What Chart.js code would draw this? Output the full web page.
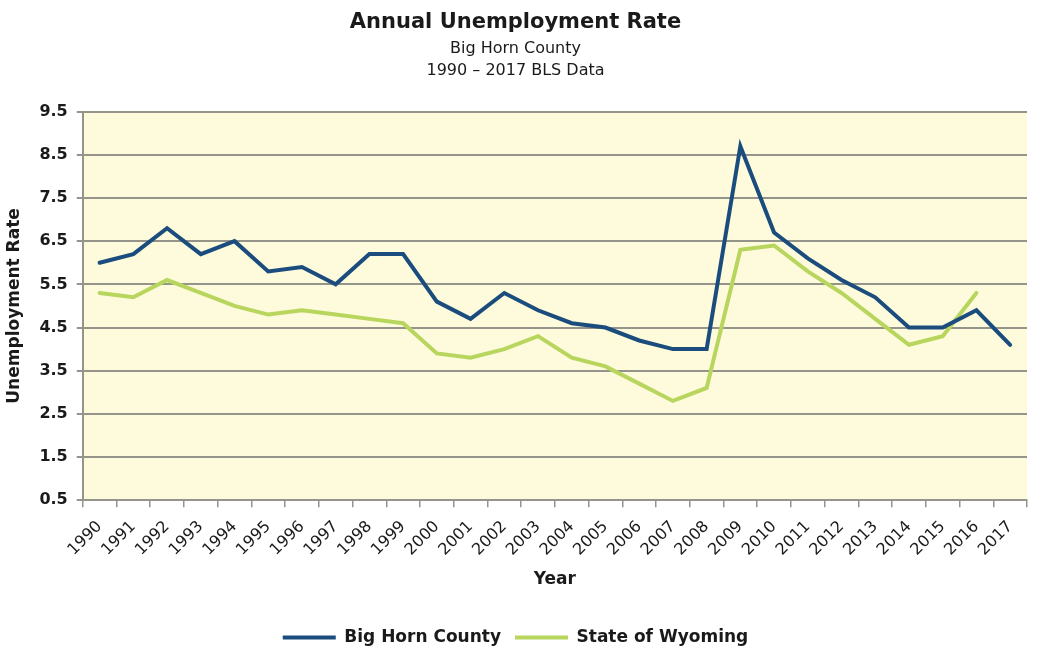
<!DOCTYPE html>
<html>
<head>
<meta charset="utf-8">
<script src="https://cdn.jsdelivr.net/npm/chart.js@4/dist/chart.umd.min.js"></script>
<style>
  html, body { margin: 0; padding: 0; background: #fff; }
  #wrap { width: 1037px; height: 656px; }
</style>
</head>
<body>
<div id="wrap"><canvas id="c" width="1037" height="656"></canvas></div>
<script>
const years = ['1990','1991','1992','1993','1994','1995','1996','1997','1998','1999','2000','2001','2002','2003','2004','2005','2006','2007','2008','2009','2010','2011','2012','2013','2014','2015','2016','2017'];
const bigHorn = [6.0,6.2,6.8,6.2,6.5,5.8,5.9,5.5,6.2,6.2,5.1,4.7,5.3,4.9,4.6,4.5,4.2,4.0,4.0,8.7,6.7,6.1,5.6,5.2,4.5,4.5,4.9,4.1];
const wyoming = [5.3,5.2,5.6,5.3,5.0,4.8,4.9,4.8,4.7,4.6,3.9,3.8,4.0,4.3,3.8,3.6,3.2,2.8,3.1,6.3,6.4,5.8,5.3,4.7,4.1,4.3,5.3,null];

const BLUE = '#1b4c7e';
const GREEN = '#b8d55e';
const GRID = '#94948a';
const TEXT = '#1a1a1a';
const font = "'DejaVu Sans', sans-serif";

// fond jaune pâle de la zone de tracé
const plotBg = {
  id: 'plotBg',
  beforeDraw(chart) {
    const a = chart.chartArea, ctx = chart.ctx;
    ctx.save();
    ctx.fillStyle = '#fdfbdb';
    ctx.fillRect(a.left, a.top, a.right - a.left, a.bottom - a.top);
    ctx.restore();
  }
};

new Chart(document.getElementById('c').getContext('2d'), {
  type: 'line',
  data: {
    labels: years,
    datasets: [
      { label: 'Big Horn County', data: bigHorn, borderColor: BLUE, backgroundColor: BLUE, borderWidth: 4, borderCapStyle: 'round', pointRadius: 0, tension: 0 },
      { label: 'State of Wyoming', data: wyoming, borderColor: GREEN, backgroundColor: GREEN, borderWidth: 4, borderCapStyle: 'round', pointRadius: 0, tension: 0 }
    ]
  },
  options: {
    responsive: false,
    animation: false,
    layout: { padding: { left: 4, right: 10, top: 10, bottom: 0 } },
    plugins: {
      title: { display: true, text: 'Annual Unemployment Rate', color: TEXT, font: { family: font, size: 21, weight: 'bold' }, padding: { top: 0, bottom: 2 } },
      subtitle: { display: true, text: ['Big Horn County', '1990 \u2013 2017 BLS Data'], color: TEXT, font: { family: font, size: 16, lineHeight: 1.42 }, padding: { top: 0, bottom: 29 } },
      legend: {
        position: 'bottom',
        labels: { usePointStyle: true, pointStyle: 'line', pointStyleWidth: 53, color: TEXT, font: { family: font, size: 17, weight: 'bold' }, padding: 14 }
      },
      tooltip: { enabled: false }
    },
    scales: {
      x: {
        offset: true,
        grid: { display: true, drawOnChartArea: false, offset: true, tickLength: 7, color: GRID, lineWidth: 1.5 },
        border: { color: GRID, width: 2 },
        ticks: { maxRotation: 45, minRotation: 45, autoSkip: false, color: TEXT, font: { family: font, size: 16 }, padding: 10 },
        title: { display: true, text: 'Year', color: TEXT, font: { family: font, size: 17, weight: 'bold' }, padding: { top: 0, bottom: 25 } }
      },
      y: {
        min: 0.5, max: 9.5,
        ticks: { stepSize: 1, color: TEXT, font: { family: font, size: 16, weight: 'bold' }, padding: 9, callback: v => v.toFixed(1) },
        grid: { color: GRID, lineWidth: 2, tickLength: 6 },
        border: { color: GRID, width: 2 },
        title: { display: true, text: 'Unemployment Rate', color: TEXT, font: { family: font, size: 17, weight: 'bold' }, padding: { top: 0, bottom: 6 } }
      }
    }
  },
  plugins: [plotBg]
});
</script>
</body>
</html>
